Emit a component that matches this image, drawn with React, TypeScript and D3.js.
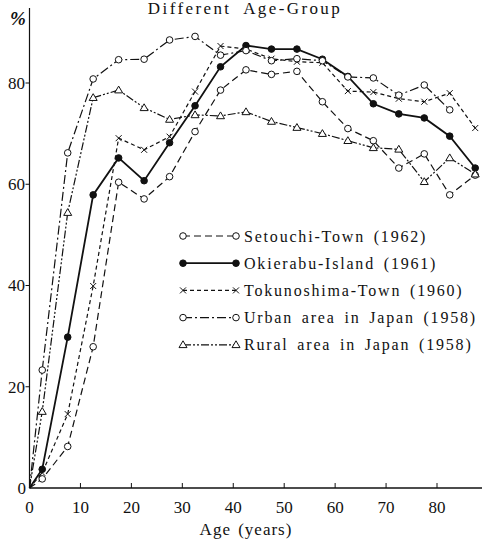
import React from "react";
import * as d3 from "d3";

const ages = [0, 2.5, 7.5, 12.5, 17.5, 22.5, 27.5, 32.5, 37.5, 42.5, 47.5, 52.5, 57.5, 62.5, 67.5, 72.5, 77.5, 82.5, 87.5];

const setouchi = [0, 1.8, 8.2, 27.9, 60.4, 57.1, 61.5, 70.4, 78.6, 82.6, 81.7, 82.3, 76.3, 71.0, 68.6, 63.2, 66.0, 57.9, 61.8];
const okierabu = [0, 3.7, 29.8, 57.9, 65.2, 60.7, 68.2, 75.5, 83.2, 87.4, 86.7, 86.7, 84.7, 81.3, 75.9, 73.9, 73.1, 69.5, 63.2];
const tokunoshima = [0, 3.0, 14.6, 39.9, 69.1, 66.8, 69.4, 78.3, 87.3, 86.7, 84.8, 84.2, 84.0, 78.4, 78.2, 76.9, 76.3, 78.0, 71.1];
const urban = [0, 23.3, 66.2, 80.8, 84.6, 84.7, 88.5, 89.2, 85.5, 86.4, 84.4, 84.8, 84.4, 81.2, 81.0, 77.6, 79.6, 74.7];
const rural = [0, 15.1, 54.4, 77.1, 78.6, 75.1, 72.8, 73.7, 73.5, 74.3, 72.4, 71.2, 70.0, 68.6, 67.2, 66.9, 60.5, 65.2, 62.0];

const seriesNames = [
  "Setouchi-Town (1962)",
  "Okierabu-Island (1961)",
  "Tokunoshima-Town (1960)",
  "Urban area in Japan (1958)",
  "Rural area in Japan (1958)",
];

const xTicks = [0, 10, 20, 30, 40, 50, 60, 70, 80];
const yTicks = [0, 20, 40, 60, 80];

type Marker = "open" | "filled" | "cross" | "triangle";

const seriesDefs: { name: string; values: number[]; dash: string; width: number; marker: Marker }[] = [
  { name: seriesNames[0], values: setouchi, dash: "7,4", width: 1.2, marker: "open" },
  { name: seriesNames[1], values: okierabu, dash: "", width: 1.8, marker: "filled" },
  { name: seriesNames[2], values: tokunoshima, dash: "4,3", width: 1.2, marker: "cross" },
  { name: seriesNames[3], values: urban, dash: "9,3,2,3", width: 1.2, marker: "open" },
  { name: seriesNames[4], values: rural, dash: "8,2,2,2,2,2", width: 1.2, marker: "triangle" },
];

const x = d3.scaleLinear().domain([0, 80]).range([29.5, 437]);
const y = d3.scaleLinear().domain([0, 80]).range([488, 83]);

function MarkerShape({ type, cx, cy }: { type: Marker; cx: number; cy: number }) {
  if (type === "open") return <circle cx={cx} cy={cy} r={3.3} fill="white" stroke="#111" strokeWidth={1} />;
  if (type === "filled") return <circle cx={cx} cy={cy} r={3.3} fill="#111" stroke="#111" strokeWidth={1} />;
  if (type === "cross") {
    const s = 3;
    return (
      <path d={`M${cx - s},${cy - s}L${cx + s},${cy + s}M${cx - s},${cy + s}L${cx + s},${cy - s}`} stroke="#111" strokeWidth={1} fill="none" />
    );
  }
  const s = 4;
  return (
    <path d={`M${cx},${cy - s}L${cx + s},${cy + s * 0.7}L${cx - s},${cy + s * 0.7}Z`} fill="white" stroke="#111" strokeWidth={1} />
  );
}

export default function App() {
  const line = d3
    .line<[number, number]>()
    .x((d) => x(d[0]))
    .y((d) => y(d[1]));
  const font = "'Liberation Serif', 'DejaVu Serif', serif";
  const legendX0 = 183;
  const legendX1 = 236;
  const legendY0 = 236;
  const legendStep = 27.2;

  return (
    <svg
      width={482}
      height={541}
      style={{ position: "absolute", left: 0, top: 0, background: "white" }}
      fontFamily={font}
    >
      <rect width={482} height={541} fill="white" />
      <text x={245} y={14} textAnchor="middle" fontSize={17} fill="#111" letterSpacing={2.4} wordSpacing={6}>
        Different Age-Group
      </text>
      <text x={10} y={25} fontSize={19} fontStyle="italic" fontWeight="bold" fill="#111">
        %
      </text>

      {/* axes */}
      <line x1={x(0)} y1={y(0)} x2={x(0)} y2={8} stroke="#111" strokeWidth={1.2} />
      <line x1={x(0)} y1={y(0)} x2={482} y2={y(0)} stroke="#111" strokeWidth={1.6} />

      {yTicks.map((t) => (
        <g key={`y${t}`}>
          {t > 0 && <line x1={x(0) - 4} x2={x(0)} y1={y(t)} y2={y(t)} stroke="#111" strokeWidth={1} />}
          <text x={t === 0 ? 26 : 25} y={y(t)} dy="0.35em" textAnchor="end" fontSize={17} fill="#111">
            {t}
          </text>
        </g>
      ))}
      {xTicks.map((t) => (
        <g key={`x${t}`}>
          {t > 0 && <line x1={x(t)} x2={x(t)} y1={y(0)} y2={y(0) - 5} stroke="#111" strokeWidth={1} />}
          <text x={x(t)} y={513} textAnchor="middle" fontSize={17} fill="#111">
            {t}
          </text>
        </g>
      ))}
      <text x={246} y={535} textAnchor="middle" fontSize={17} fill="#111" letterSpacing={1} wordSpacing={2}>
        Age (years)
      </text>

      {/* series */}
      {seriesDefs.map((s) => {
        const pts: [number, number][] = s.values.map((v, j) => [ages[j], v]);
        return (
          <g key={s.name}>
            <path d={line(pts) || ""} fill="none" stroke="#111" strokeWidth={s.width} strokeDasharray={s.dash || undefined} />
            {pts.slice(1).map((p, j) => (
              <MarkerShape key={j} type={s.marker} cx={x(p[0])} cy={y(p[1])} />
            ))}
          </g>
        );
      })}

      {/* legend */}
      {seriesDefs.map((s, i) => {
        const ly = legendY0 + i * legendStep;
        return (
          <g key={`lg${i}`}>
            <line x1={legendX0} x2={legendX1} y1={ly} y2={ly} stroke="#111" strokeWidth={s.width} strokeDasharray={s.dash || undefined} />
            <MarkerShape type={s.marker} cx={legendX0} cy={ly} />
            <MarkerShape type={s.marker} cx={legendX1} cy={ly} />
            <text x={244} y={ly} dy="0.35em" fontSize={16} fill="#111" letterSpacing={1.8} wordSpacing={3}>
              {s.name}
            </text>
          </g>
        );
      })}
    </svg>
  );
}
